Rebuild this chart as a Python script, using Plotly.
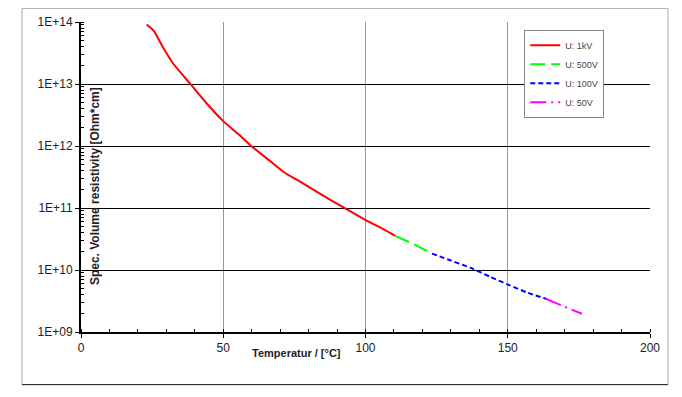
import plotly.graph_objects as go

# Data (temperature in °C, resistivity in Ohm*cm)
t_1kv = [23.1, 25.7, 28.4, 32.4, 38.3, 44.2, 50.0, 55.5, 59.4, 65.3, 71.1, 77.0, 82.8, 88.7, 92.8, 99.9, 106.3, 110.4]
r_1kv = [9.08e13, 7.08e13, 4.22e13, 2.14e13, 1.02e13, 4.85e12, 2.52e12, 1.53e12, 1.04e12, 6.31e11, 3.85e11, 2.66e11, 1.84e11, 1.27e11, 9.9e10, 6.43e10, 4.55e10, 3.55e10]

t_500v = [110.4, 117.0, 123.4]
r_500v = [3.55e10, 2.6e10, 1.84e10]

t_100v = [123.4, 130.0, 137.0, 144.0, 150.3, 157.0, 163.4]
r_100v = [1.84e10, 1.42e10, 1.08e10, 7.7e9, 5.77e9, 4.3e9, 3.44e9]

t_50v = [163.4, 170.0, 176.1]
r_50v = [3.44e9, 2.55e9, 1.97e9]

series_names = ["U: 1kV", "U: 500V", "U: 100V", "U: 50V"]
y_tickvals = [1e9, 1e10, 1e11, 1e12, 1e13, 1e14]
y_ticktext = ["1E+09", "1E+10", "1E+11", "1E+12", "1E+13", "1E+14"]
x_tickvals = [0, 50, 100, 150, 200]

FONT = "Arial, Liberation Sans, sans-serif"

fig = go.Figure()
fig.add_trace(go.Scatter(x=t_1kv, y=r_1kv, mode="lines", name=series_names[0],
                         line=dict(color="#ff0000", width=2, shape="spline", smoothing=0.6)))
fig.add_trace(go.Scatter(x=t_500v, y=r_500v, mode="lines", name=series_names[1],
                         line=dict(color="#00ff00", width=2, dash="15px,6px", shape="spline", smoothing=0.6)))
fig.add_trace(go.Scatter(x=t_100v, y=r_100v, mode="lines", name=series_names[2],
                         line=dict(color="#0000ff", width=2, dash="5px,3px", shape="spline", smoothing=0.6)))
fig.add_trace(go.Scatter(x=t_50v, y=r_50v, mode="lines", name=series_names[3],
                         line=dict(color="#ff00ff", width=2, dash="16px,5px,2px,5px", shape="spline", smoothing=0.6)))

# the page body has an 8px margin, so the figure is shifted by 8px
fig.update_layout(
    width=666, height=381,
    margin=dict(l=73, r=24, t=14, b=57),
    paper_bgcolor="white", plot_bgcolor="white",
    font=dict(family=FONT, size=12, color="#222"),
    showlegend=True,
    legend=dict(x=0.779, y=0.975, xanchor="left", yanchor="top",
                bgcolor="white", bordercolor="#888", borderwidth=1,
                font=dict(family=FONT, size=9, color="#444"),
                tracegroupgap=0, itemwidth=30),
    xaxis=dict(range=[0, 200], tickvals=x_tickvals, showgrid=True, automargin=False,
               gridcolor="#999", gridwidth=1, zeroline=False,
               showline=True, linecolor="black", linewidth=2,
               ticks="outside", ticklen=4, tickcolor="black", tickwidth=1,
               minor=dict(dtick=10, ticks="inside", ticklen=3, tickcolor="black", showgrid=False),
               tickfont=dict(family=FONT, size=12, color="#222")),
    yaxis=dict(type="log", range=[9, 14], tickvals=y_tickvals, ticktext=y_ticktext,
               automargin=False,
               showgrid=True, gridcolor="black", gridwidth=1, zeroline=False,
               showline=True, linecolor="black", linewidth=2,
               ticks="outside", ticklen=4, tickcolor="black", tickwidth=1,
               minor=dict(dtick="D1", ticks="inside", ticklen=3, tickcolor="black", showgrid=False),
               tickfont=dict(family=FONT, size=12, color="#222")),
    shapes=[
        dict(type="rect", xref="paper", yref="paper", x0=-0.1037, x1=1.0316, y0=-0.1697, y1=1.044,
             line=dict(color="#aaa", width=1), layer="below"),
        dict(type="line", xref="paper", yref="paper", x0=-0.1037, x1=1.0316, y0=-0.1697, y1=-0.1697,
             line=dict(color="#222", width=1)),
    ],
    annotations=[
        dict(text="<b>Temperatur / [°C]</b>", xref="paper", yref="paper", x=0.378, y=-0.068,
             showarrow=False, font=dict(family=FONT, size=11, color="#222"),
             xanchor="center", yanchor="middle"),
        dict(text="<b>Spec. Volume resistivity [Ohm*cm]</b>", xref="paper", yref="paper",
             x=0.026, y=0.47, textangle=-90, showarrow=False,
             font=dict(family=FONT, size=12, color="#222"), xanchor="center", yanchor="middle"),
    ],
)

fig.write_html("out.html")
